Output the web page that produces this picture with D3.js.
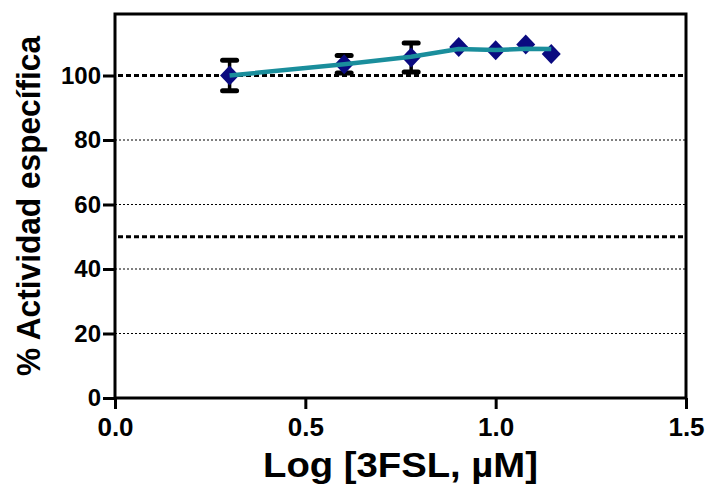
<!DOCTYPE html>
<html>
<head>
<meta charset="utf-8">
<script src="https://cdn.jsdelivr.net/npm/d3@7"></script>
<style>
  html, body { margin: 0; padding: 0; background: #fff; }
  svg { display: block; }
  text { font-family: "Liberation Sans", Arial, sans-serif; font-weight: bold; fill: #000; }
</style>
</head>
<body>
<svg id="chart" width="709" height="487"></svg>
<script>
// Concentrations (log µM) and measured specific activity (%)
const logConc   = [0.301, 0.602, 0.778, 0.903, 1.000, 1.079, 1.146];
const activity  = [100.0, 103.5, 105.6, 108.8, 107.8, 109.6, 106.7];
const errorSD   = [4.7, 2.7, 4.5, 0, 0, 0, 0];
// Connecting curve through the data
const curveVals = [100.0, 103.5, 105.8, 108.2, 107.9, 108.3, 108.2];
const xTicks = [0.0, 0.5, 1.0, 1.5];
const yTicks = [0, 20, 40, 60, 80, 100];
const refLines = [50, 100];

const svg = d3.select("#chart");
const plotLeft = 115, plotRight = 686, plotBottom = 398, plotTop = 14;
const fontStack = '"Liberation Sans", Arial, sans-serif';

const x = d3.scaleLinear().domain([0, 1.5]).range([plotLeft, plotRight]);
const y = d3.scaleLinear().domain([0, 100]).range([plotBottom, 75.5]);

// Light dotted gridlines
svg.append("g").selectAll("line")
  .data(yTicks.filter(v => v > 0 && !refLines.includes(v)))
  .join("line")
  .attr("x1", plotLeft).attr("x2", plotRight)
  .attr("y1", d => y(d)).attr("y2", d => y(d))
  .attr("stroke", "#000").attr("stroke-width", 1)
  .attr("stroke-dasharray", "2,2");

// Heavier dashed reference lines
svg.append("g").selectAll("line")
  .data(refLines)
  .join("line")
  .attr("x1", plotLeft + 3).attr("x2", plotRight - 2)
  .attr("y1", d => y(d)).attr("y2", d => y(d))
  .attr("stroke", "#000").attr("stroke-width", 2.8)
  .attr("stroke-dasharray", "5,3");

// Frame
svg.append("rect")
  .attr("x", plotLeft).attr("y", plotTop)
  .attr("width", plotRight - plotLeft).attr("height", plotBottom - plotTop)
  .attr("fill", "none").attr("stroke", "#000").attr("stroke-width", 3);

// X axis
const xAxis = d3.axisBottom(x).tickValues(xTicks).tickFormat(d3.format(".1f"))
  .tickSize(11).tickPadding(7);
const gx = svg.append("g").attr("transform", `translate(0,${plotBottom})`).call(xAxis);
gx.select(".domain").remove();
gx.selectAll(".tick line").attr("stroke", "#000").attr("stroke-width", 3);
gx.selectAll(".tick text").attr("font-size", 26).attr("dy", "0.75em")
  .style("font-family", fontStack).style("font-weight", "bold");

// Y axis
const yAxis = d3.axisLeft(y).tickValues(yTicks).tickSize(12).tickPadding(2);
const gy = svg.append("g").attr("transform", `translate(${plotLeft},0)`).call(yAxis);
gy.select(".domain").remove();
gy.selectAll(".tick line").attr("stroke", "#000").attr("stroke-width", 3);
gy.selectAll(".tick text").attr("font-size", 24)
  .style("font-family", fontStack).style("font-weight", "bold");

// Axis titles
svg.append("text")
  .attr("x", (plotLeft + plotRight) / 2).attr("y", 477)
  .attr("text-anchor", "middle").attr("font-size", 35)
  .attr("textLength", 275).attr("lengthAdjust", "spacingAndGlyphs")
  .text("Log [3FSL, µM]");
svg.append("text")
  .attr("transform", `translate(40,${(plotTop + plotBottom) / 2}) rotate(-90)`)
  .attr("text-anchor", "middle").attr("font-size", 33)
  .attr("textLength", 340).attr("lengthAdjust", "spacingAndGlyphs")
  .text("% Actividad específica");

const pts = logConc.map((c, i) => ({ c, v: activity[i], e: errorSD[i], f: curveVals[i] }));

// Error bars
const eb = svg.append("g").selectAll("g").data(pts.filter(p => p.e > 0)).join("g");
eb.append("line")
  .attr("x1", d => x(d.c)).attr("x2", d => x(d.c))
  .attr("y1", d => y(d.v - d.e)).attr("y2", d => y(d.v + d.e))
  .attr("stroke", "#000").attr("stroke-width", 3.5);
["-", "+"].forEach(s => {
  eb.append("line")
    .attr("x1", d => x(d.c) - 7).attr("x2", d => x(d.c) + 7)
    .attr("y1", d => y(s === "+" ? d.v + d.e : d.v - d.e))
    .attr("y2", d => y(s === "+" ? d.v + d.e : d.v - d.e))
    .attr("stroke", "#000").attr("stroke-width", 5).attr("stroke-linecap", "round");
});

// Diamond markers
svg.append("g").selectAll("path").data(pts).join("path")
  .attr("transform", d => `translate(${x(d.c)},${y(d.v)})`)
  .attr("d", "M0,-10L9.5,0L0,10L-9.5,0Z")
  .attr("fill", "#0a0a80");

// Curve
svg.append("path")
  .datum(pts)
  .attr("d", d3.line().x(d => x(d.c)).y(d => y(d.f)))
  .attr("fill", "none").attr("stroke", "#1a8e9c").attr("stroke-width", 4.5)
  .attr("stroke-linejoin", "round");
</script>
</body>
</html>
